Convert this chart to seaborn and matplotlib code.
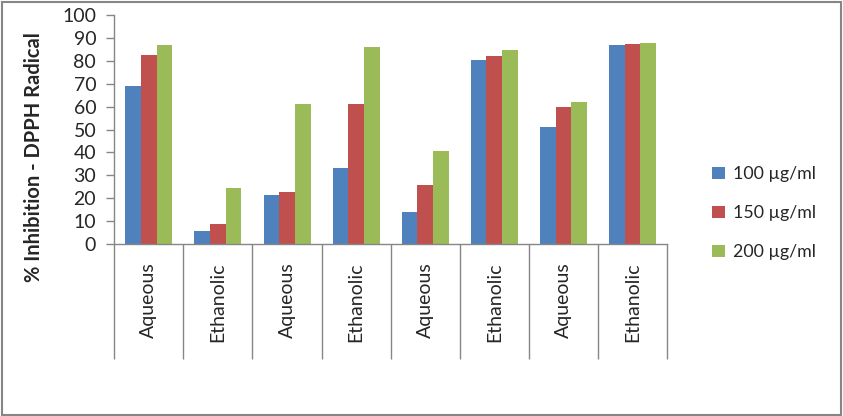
import pandas as pd
import numpy as np
import matplotlib.pyplot as plt
import seaborn as sns
from matplotlib.patches import Rectangle

# extracts (in plot order) and % inhibition at each concentration
extracts = ['Aqueous', 'Ethanolic', 'Aqueous', 'Ethanolic',
            'Aqueous', 'Ethanolic', 'Aqueous', 'Ethanolic']
conc_labels = ['100 µg/ml', '150 µg/ml', '200 µg/ml']
inh_100 = [68.9, 5.8, 21.5, 33.2, 14.1, 80.3, 51.1, 86.8]
inh_150 = [82.4, 8.9, 22.8, 61.1, 25.8, 82.0, 59.8, 87.2]
inh_200 = [86.8, 24.5, 61.1, 85.9, 40.6, 84.6, 62.0, 87.7]

colors = ['#4F81BD', '#C0504D', '#9BBB59']

rows = []
for i in range(len(extracts)):
    for lab, vals in zip(conc_labels, [inh_100, inh_150, inh_200]):
        rows.append({'sample': i, 'conc': lab, 'value': vals[i]})
df = pd.DataFrame(rows)

sns.set_style('white')
plt.rcParams['font.family'] = ['Lato', 'DejaVu Sans']

fig = plt.figure(figsize=(8.43, 4.16), dpi=100)
ax = fig.add_axes([114.3 / 843, 1 - 244.3 / 416, (667 - 114.3) / 843, (244.3 - 14.7) / 416])

sns.barplot(data=df, x='sample', y='value', hue='conc', palette=colors,
            width=0.68, saturation=1, ax=ax, edgecolor='none')

grey = '#868686'
ax.set_ylim(0, 100)
ax.set_xlim(-0.5, len(extracts) - 0.5)
ax.set_yticks(np.arange(0, 101, 10))
ax.tick_params(axis='y', direction='out', length=6, width=1, color=grey,
               labelsize=14, pad=7, left=True)
ax.set_xticks(range(len(extracts)))
ax.set_xticklabels(extracts, rotation=90, fontsize=14)
ax.tick_params(axis='x', which='major', length=0, pad=13)
ax.set_xticks(np.arange(-0.5, len(extracts), 1), minor=True)
ax.tick_params(axis='x', which='minor', direction='out', length=83, width=1,
               color=grey, bottom=True)
for s in ['top', 'right']:
    ax.spines[s].set_visible(False)
for s in ['left', 'bottom']:
    ax.spines[s].set_color(grey)
    ax.spines[s].set_linewidth(1)
ax.set_xlabel('')
ax.set_ylabel('')

fig.text(34 / 843, 1 - 157 / 416, '% Inhibition - DPPH Radical', rotation=90,
         ha='center', va='center', fontsize=14.5, fontweight='bold')

handles, labels = ax.get_legend_handles_labels()
ax.legend(handles, labels, loc='upper left', bbox_to_anchor=(705 / 843, 1 - 159 / 416),
          bbox_transform=fig.transFigure, frameon=False, fontsize=12.8,
          handlelength=0.7, handleheight=0.7, handletextpad=0.45, labelspacing=1.3,
          borderaxespad=0)

fig.add_artist(Rectangle((2 / 843, 1.5 / 416), 838.5 / 843, 412.5 / 416,
                         transform=fig.transFigure, fill=False, edgecolor=grey, linewidth=1.5))

fig.savefig('out.png', dpi=100)
